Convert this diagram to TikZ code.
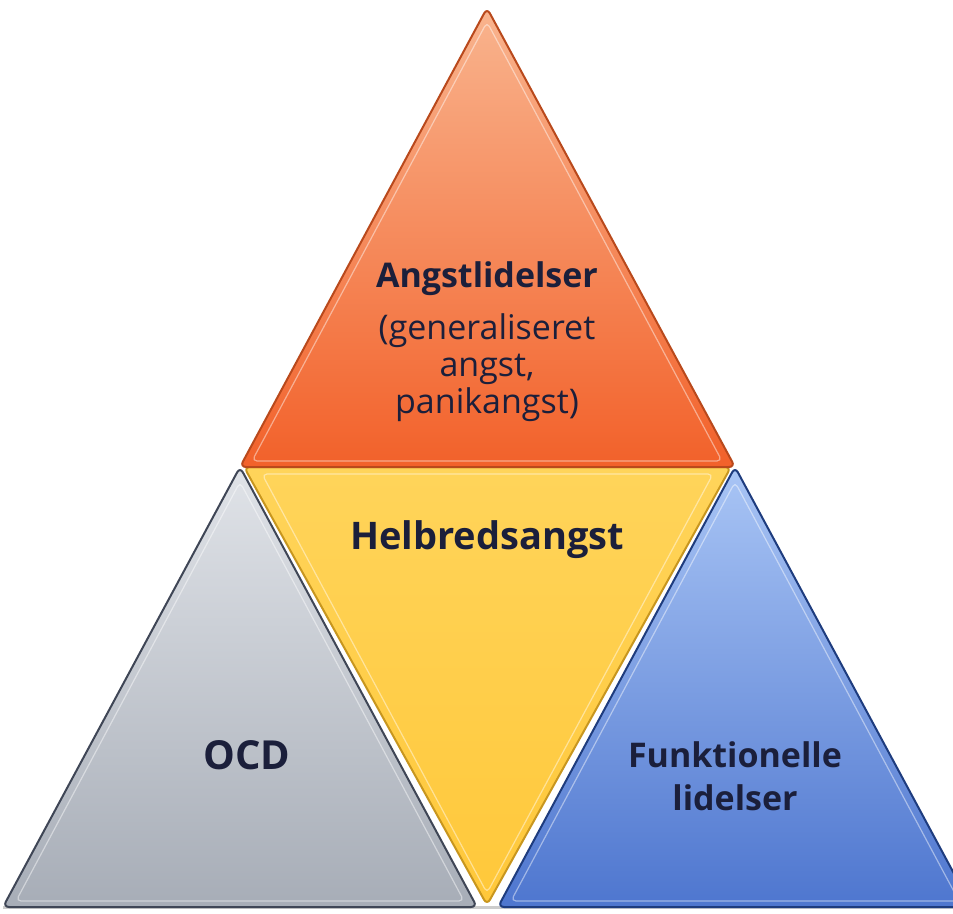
\documentclass[tikz,border=0pt]{standalone}
\usepackage{fontspec}
\setmainfont{Open Sans}
\usepackage{xcolor}
\usepackage{tikz}
\usetikzlibrary{calc}

\definecolor{inkblue}{HTML}{1B1F3B}
\definecolor{orangetop}{HTML}{F9B48E}
\definecolor{orangebot}{HTML}{F2612A}
\definecolor{orangeline}{HTML}{B9491C}
\definecolor{yellowtop}{HTML}{FFD45A}
\definecolor{yellowmid}{HTML}{FFEB98}
\definecolor{yellowbot}{HTML}{FFC83A}
\definecolor{yellowline}{HTML}{C8961E}
\definecolor{greytop}{HTML}{E0E3E8}
\definecolor{greybot}{HTML}{A7ADB7}
\definecolor{greyline}{HTML}{3F4656}
\definecolor{bluetop}{HTML}{A9C5F5}
\definecolor{bluebot}{HTML}{4E76CF}
\definecolor{blueline}{HTML}{1E3C7E}

\tikzset{
  tri/.style={line width=2pt, rounded corners=6pt, line join=round},
  glow/.style={line width=1.2pt, rounded corners=5pt, draw=white, draw opacity=0.45},
  label/.style={text=inkblue, align=center, anchor=base, inner sep=0pt}
}

\begin{document}
\begin{tikzpicture}[x=1pt, y=-1pt]
  \useasboundingbox (0,0) rectangle (953,913);
  % corners
  \coordinate (top) at (487,8);
  \coordinate (midL) at (240,467);
  \coordinate (midR) at (735,467);
  \coordinate (greyL) at (3,907);
  \coordinate (greyR) at (477,907);
  \coordinate (tip) at (487,905);
  \coordinate (blueL) at (498,907);
  \coordinate (blueR) at (972,907);
  % faint floor shadow
  \draw[line width=3pt, color=gray!40] (greyL) -- (blueR);
  % the four triangles
  \shadedraw[tri, draw=greyline, top color=greytop, bottom color=greybot]
    (midL) -- (greyR) -- (greyL) -- cycle;
  \shadedraw[tri, draw=blueline, top color=bluetop, bottom color=bluebot]
    (midR) -- (blueR) -- (blueL) -- cycle;
  \shadedraw[tri, draw=yellowline, top color=yellowtop, middle color=yellowmid, bottom color=yellowbot]
    ($(midL)+(4,0)$) -- ($(midR)+(-4,0)$) -- (tip) -- cycle;
  \shadedraw[tri, draw=orangeline, top color=orangetop, bottom color=orangebot]
    (top) -- (midR) -- (midL) -- cycle;
  % inner highlights
  \draw[glow] (487,22) -- (722,461) -- (252,461) -- cycle;
  \draw[glow] (262,474) -- (713,474) -- (487,893) -- cycle;
  \draw[glow] (240,482) -- (464,901) -- (16,901) -- cycle;
  \draw[glow] (735,482) -- (959,901) -- (511,901) -- cycle;
  % labels (base = last line)
  \node[label, font=\fontsize{34}{37}\selectfont\bfseries] (angst) at (487,287) {Angstlidelser};
  \node[label, font=\fontsize{34}{37}\selectfont] (angsttype) at (487,413) {(generaliseret\\angst,\\panikangst)};
  \node[label, font=\fontsize{38}{43}\selectfont\bfseries] (helbred) at (487,549) {Helbredsangst};
  \node[label, font=\fontsize{40}{43}\selectfont\bfseries] (ocd) at (247,769) {OCD};
  \node[label, font=\fontsize{34}{43}\selectfont\bfseries] (funk) at (735,810) {Funktionelle\\lidelser};
\end{tikzpicture}
\end{document}
